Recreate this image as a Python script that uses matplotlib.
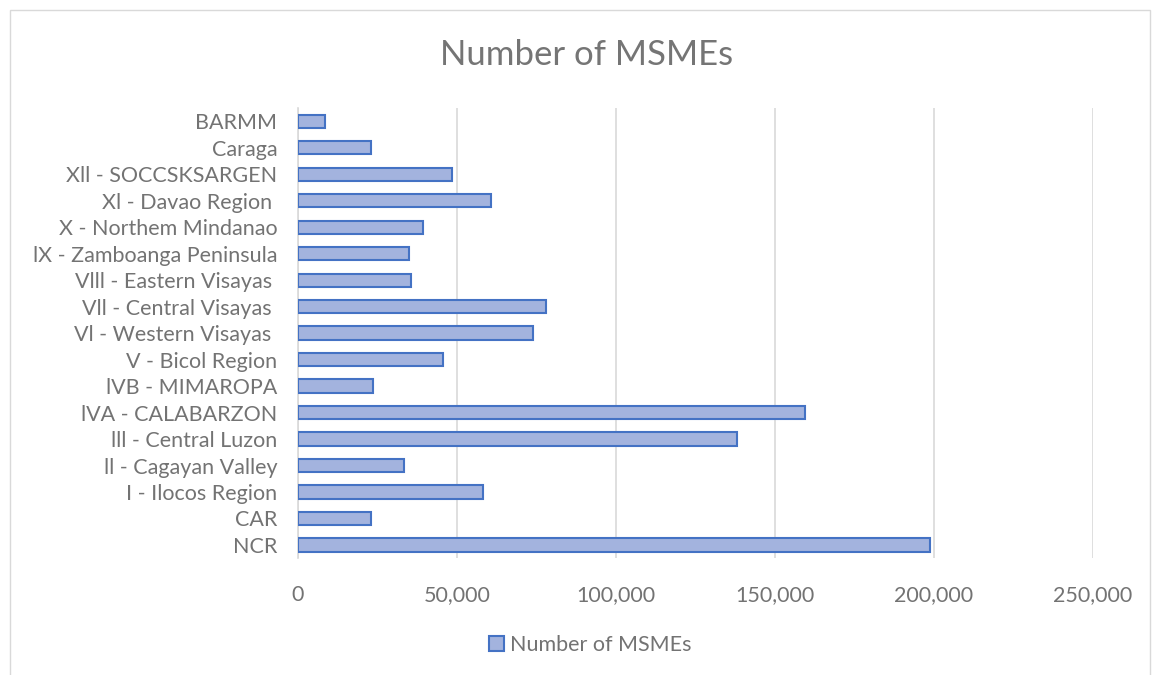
import matplotlib.pyplot as plt
from matplotlib.patches import Rectangle
from matplotlib.ticker import FuncFormatter

regions = ["NCR", "CAR", "I - Ilocos Region", "ll - Cagayan Valley", "lll - Central Luzon",
           "lVA - CALABARZON", "lVB - MIMAROPA", "V - Bicol Region", "Vl - Western Visayas ",
           "Vll - Central Visayas ", "Vlll - Eastern Visayas ", "lX - Zamboanga Peninsula",
           "X - Northem Mindanao", "Xl - Davao Region ", "Xll - SOCCSKSARGEN", "Caraga", "BARMM"]
msmes = [198700, 23000, 58200, 33300, 138000, 159400, 23600, 45600, 73900,
         78000, 35500, 34900, 39300, 60700, 48400, 23000, 8500]
x_ticks = [0, 50000, 100000, 150000, 200000, 250000]

plt.rcParams["font.family"] = ["Lato", "DejaVu Sans"]
text_color = "#737373"

fig = plt.figure(figsize=(11.55, 6.75), dpi=100)
ax = fig.add_axes([0.258, 0.173, 0.688, 0.667])

ypos = list(range(len(regions)))
ax.barh(ypos, msmes, height=0.5, color="#a3b3de", edgecolor="#4472c4", linewidth=1.5,
        label="Number of MSMEs", zorder=3)

ax.set_xlim(0, 250000)
ax.set_ylim(-0.5, len(regions) - 0.5)
ax.set_xticks(x_ticks)
ax.xaxis.set_major_formatter(FuncFormatter(lambda v, p: f"{int(v):,}"))
ax.set_yticks(ypos)
ax.set_yticklabels(regions)
ax.tick_params(axis="both", length=0, labelsize=15.5, colors=text_color)
ax.tick_params(axis="x", pad=19)
ax.tick_params(axis="y", pad=15)
ax.grid(axis="x", color="#d9d9d9", linewidth=1.2, zorder=0)
for side in ["top", "right", "bottom"]:
    ax.spines[side].set_visible(False)
ax.spines["left"].set_color("#d9d9d9")
ax.spines["left"].set_linewidth(1.2)

fig.text(0.508, 0.919, "Number of MSMEs", ha="center", va="center", fontsize=25, color="#757575")

leg = fig.legend(loc="center", bbox_to_anchor=(0.511, 0.045), frameon=False, fontsize=15.5,
                 handlelength=0.7, handleheight=0.7, handletextpad=0.3)
for t in leg.get_texts():
    t.set_color(text_color)

fig.patches.append(Rectangle((10 / 1155, -0.01), 1140 / 1155, 1 - 10 / 675 + 0.01,
                             transform=fig.transFigure, fill=False, edgecolor="#d9d9d9", linewidth=1))

fig.savefig("out.png", dpi=100)
